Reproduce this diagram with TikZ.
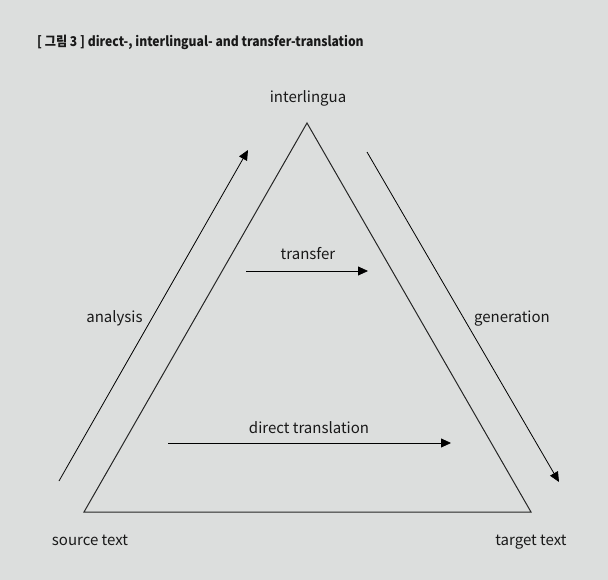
\documentclass[tikz,border=0pt]{standalone}
\usepackage{fontspec}
\setmainfont{Noto Sans CJK KR}
\newfontfamily\titlefont{Noto Sans CJK KR}[FakeStretch=0.9]
\usetikzlibrary{arrows.meta}
\definecolor{bg}{HTML}{DCDEDD}
\tikzset{
  lbl/.style={font=\fontsize{15}{18}\selectfont, inner sep=0pt, anchor=base, text=black!90},
  arr/.style={draw=black, line width=0.8pt, -{Triangle[length=10pt,width=9pt]}},
  tri/.style={draw=black!85, line width=1pt},
}
\begin{document}
\begin{tikzpicture}[x=1pt,y=-1pt]
\fill[bg] (0,0) rectangle (608,580);
\useasboundingbox (0,0) rectangle (608,580);
\node[lbl, anchor=base west, font=\titlefont\bfseries\fontsize{13.5}{16}\selectfont] (title) at (37,47) {[ 그림 3 ] direct-, interlingual- and transfer-translation};
\coordinate (apex) at (307,123);
\coordinate (bl) at (84,512);
\coordinate (br) at (531,512);
\draw[tri] (apex) -- (bl) -- (br) -- cycle;
\node[lbl] (il) at (308,103) {interlingua};
\node[lbl] (src) at (90,545) {source text};
\node[lbl] (tgt) at (531,545) {target text};
\node[lbl] (ana) at (114.5,322) {analysis};
\node[lbl] (gen) at (512,322) {generation};
\node[lbl] (tr) at (308,260) {transfer};
\node[lbl] (dt) at (309,433) {direct translation};
\coordinate (a1) at (59,481); \coordinate (a2) at (248,150);
\draw[arr] (a1) -- (a2);
\coordinate (g1) at (367,152); \coordinate (g2) at (559,482);
\draw[arr] (g1) -- (g2);
\coordinate (t1) at (246,271); \coordinate (t2) at (368,271);
\draw[arr] (t1) -- (t2);
\coordinate (d1) at (168,443); \coordinate (d2) at (451,443);
\draw[arr] (d1) -- (d2);
\end{tikzpicture}
\end{document}
